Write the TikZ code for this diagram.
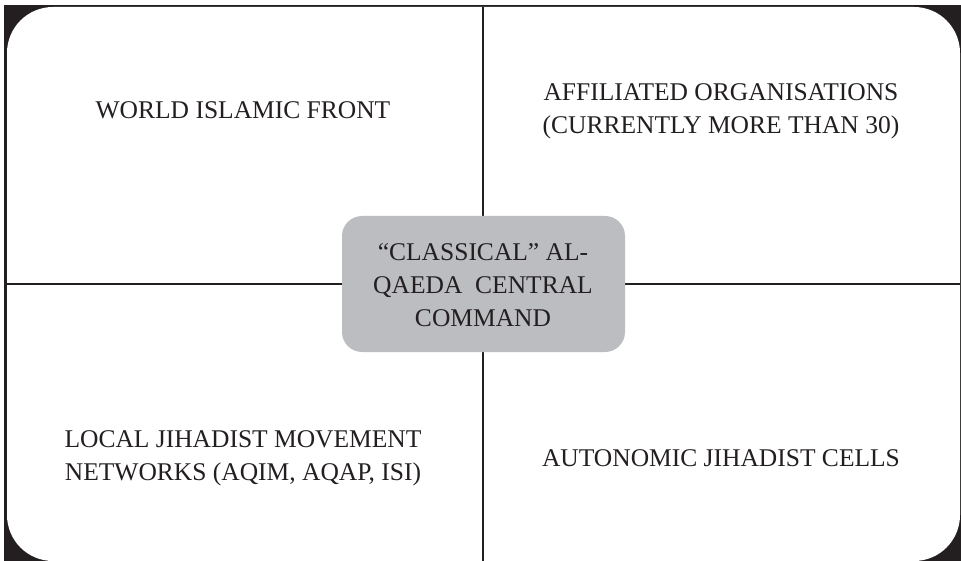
\documentclass[tikz,border=0pt]{standalone}
\usepackage{fontspec}
\setmainfont{Liberation Serif}
\definecolor{ink}{HTML}{231F20}
\definecolor{boxgray}{HTML}{BCBDC0}
\begin{document}
\begin{tikzpicture}[x=1pt,y=-1pt,
  lbl/.style={text=ink, font=\fontsize{25.5}{33}\selectfont, align=center, inner sep=0pt},
  divider/.style={draw=ink, line width=2pt},
  corebox/.style={fill=boxgray, rounded corners=20pt, minimum width=283pt, minimum height=136pt, inner sep=0pt}]
\useasboundingbox (0,0) rectangle (961,561);
\fill[white] (0,0) rectangle (961,561);
\fill[ink] (4,5) rectangle (961,561);
\fill[white, rounded corners=46pt] (7,7) rectangle (960,561);
\coordinate (top) at (483,7);
\coordinate (bot) at (483,561);
\coordinate (left) at (7,284);
\coordinate (right) at (960,284);
\draw[divider] (top) -- (bot);
\draw[divider] (left) -- (right);
\node[corebox] (core) at (483.5,284) {};
\node[lbl] (coretext) at (483,285) {“CLASSICAL” AL-\\QAEDA\ \ CENTRAL\\COMMAND};
\node[lbl] (wif) at (243,110) {WORLD ISLAMIC FRONT};
\node[lbl] (aff) at (721,111) {AFFILIATED ORGANISATIONS\\(CURRENTLY MORE THAN 30)};
\node[lbl] (local) at (243,458) {LOCAL JIHADIST MOVEMENT\\NETWORKS (AQIM, AQAP, ISI)};
\node[lbl] (auto) at (721,458) {AUTONOMIC JIHADIST CELLS};
\end{tikzpicture}
\end{document}
